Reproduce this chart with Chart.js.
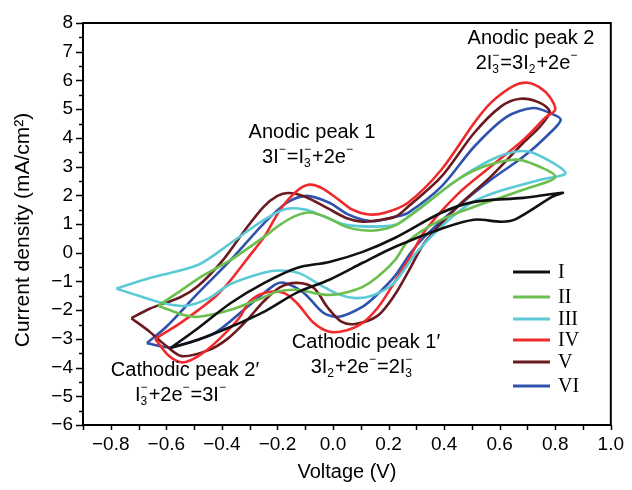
<!DOCTYPE html>
<html>
<head>
<meta charset="utf-8">
<script src="https://cdn.jsdelivr.net/npm/chart.js@4.4.0/dist/chart.umd.min.js"></script>
<style>
    * { padding:0; margin:0; }
    body { background:#fff; }
    #wrap { width:632px; height:490px; }
</style>
</head>
<body>
<div id="wrap"><canvas id="chart"></canvas></div>
<script>
var seriesNames = ['I', 'II', 'III', 'IV', 'V', 'VI'];
var seriesColors = ['#111111', '#6cbf4f', '#5ccad6', '#f02a2c', '#6b1a20', '#2f52ad'];

// each loop: left vertex -> forward (anodic) sweep -> right vertex -> reverse sweep -> back
var vI = [-0.585, -0.485, -0.368, -0.247, -0.13, -0.013, 0.107, 0.224, 0.39, 0.508, 0.685, 0.827,
          0.79, 0.66, 0.607, 0.508, 0.40, 0.224, 0.107, -0.013, -0.13, -0.247, -0.368, -0.485, -0.585];
var jI = [-3.32, -2.62, -1.75, -1.05, -0.53, -0.32, 0.03, 0.52, 1.39, 1.77, 1.91, 2.09,
          1.95, 1.18, 1.08, 1.15, 0.87, 0.21, -0.35, -0.94, -1.39, -2.05, -2.58, -3.03, -3.32];

var vII = [-0.63, -0.56, -0.485, -0.368, -0.247, -0.19, -0.13, -0.08, -0.02, 0.047, 0.107, 0.16, 0.224, 0.3, 0.448, 0.543, 0.65, 0.71, 0.80,
           0.685, 0.508, 0.39, 0.27, 0.224, 0.16, 0.107, 0.04, -0.013, -0.07, -0.13, -0.2, -0.247, -0.368, -0.485, -0.545, -0.6, -0.63];
var jII = [-1.85, -1.4, -0.9, -0.25, 0.56, 0.98, 1.3, 1.4, 1.22, 0.9, 0.78, 0.78, 0.95, 1.45, 2.54, 3.0, 3.24, 3.13, 2.64,
           2.19, 1.6, 1.15, 0.4, -0.25, -0.85, -1.19, -1.4, -1.47, -1.4, -1.29, -1.35, -1.54, -1.99, -2.23, -2.15, -1.95, -1.85];

var vIII = [-0.78, -0.66, -0.485, -0.368, -0.247, -0.17, -0.1, -0.03, 0.047, 0.153, 0.224, 0.27, 0.448, 0.568, 0.65, 0.72, 0.837,
            0.75, 0.6, 0.5, 0.4, 0.3, 0.22, 0.14, 0.08, 0.02, -0.05, -0.12, -0.19, -0.25, -0.37, -0.45, -0.53, -0.6, -0.7, -0.78];
var jIII = [-1.25, -0.88, -0.42, 0.34, 1.15, 1.52, 1.5, 1.25, 0.97, 0.91, 0.97, 1.25, 2.54, 3.23, 3.51, 3.48, 2.78,
            2.55, 2.15, 1.75, 1.0, 0.0, -1.05, -1.5, -1.58, -1.45, -1.1, -0.72, -0.62, -0.7, -1.1, -1.6, -1.85, -1.78, -1.5, -1.25];

var vIV = [-0.64, -0.55, -0.485, -0.42, -0.368, -0.3, -0.247, -0.19, -0.13, -0.085, -0.04, 0.02, 0.07, 0.13, 0.19, 0.27, 0.39, 0.508, 0.568, 0.65, 0.70, 0.745, 0.78, 0.80,
           0.767, 0.685, 0.568, 0.45, 0.33, 0.28, 0.22, 0.164, 0.107, 0.05, -0.013, -0.07, -0.13, -0.177, -0.247, -0.30, -0.34, -0.425, -0.485, -0.54, -0.59, -0.64];
var jIV = [-3.0, -2.45, -2.0, -1.5, -0.95, -0.1, 0.56, 1.5, 2.15, 2.37, 2.25, 1.85, 1.5, 1.33, 1.4, 1.74, 2.89, 4.52, 5.22, 5.81, 5.92, 5.75, 5.43, 4.98,
           4.73, 3.93, 3.0, 2.05, 0.75, -0.1, -1.05, -1.88, -2.44, -2.7, -2.75, -2.44, -1.75, -1.4, -1.4, -1.7, -2.3, -3.15, -3.6, -3.82, -3.6, -3.0];

var vV = [-0.726, -0.66, -0.55, -0.485, -0.4, -0.32, -0.25, -0.2, -0.16, -0.1, -0.02, 0.05, 0.107, 0.153, 0.224, 0.27, 0.39, 0.508, 0.603, 0.674, 0.745, 0.78,
          0.745, 0.685, 0.568, 0.448, 0.33, 0.28, 0.22, 0.16, 0.08, 0.03, -0.02, -0.07, -0.13, -0.19, -0.25, -0.308, -0.38, -0.45, -0.545, -0.6, -0.66, -0.726];
var jV = [-2.28, -1.95, -1.55, -1.15, -0.3, 0.75, 1.6, 1.98, 2.08, 1.95, 1.55, 1.2, 1.08, 1.12, 1.25, 1.6, 2.65, 4.17, 5.08, 5.36, 5.22, 4.91,
          4.39, 3.83, 2.65, 1.6, 0.35, -0.5, -1.5, -2.2, -2.48, -2.4, -1.9, -1.22, -1.05, -1.2, -1.7, -2.33, -3.0, -3.4, -3.6, -3.25, -2.75, -2.28];

var vVI = [-0.67, -0.60, -0.485, -0.368, -0.247, -0.166, -0.095, -0.013, 0.05, 0.107, 0.153, 0.224, 0.27, 0.39, 0.508, 0.625, 0.72, 0.78, 0.82,
           0.767, 0.685, 0.568, 0.448, 0.33, 0.28, 0.224, 0.16, 0.107, 0.022, -0.035, -0.105, -0.177, -0.21, -0.308, -0.425, -0.545, -0.59, -0.67];
var jVI = [-3.15, -2.58, -1.4, -0.25, 1.04, 1.74, 1.98, 1.74, 1.35, 1.15, 1.1, 1.25, 1.39, 2.3, 3.69, 4.73, 5.04, 4.87, 4.63,
           4.04, 3.34, 2.54, 1.6, 0.56, 0.0, -0.8, -1.45, -1.88, -2.23, -2.09, -1.4, -1.05, -1.12, -1.88, -2.79, -3.2, -3.3, -3.15];

var voltages = [vI, vII, vIII, vIV, vV, vVI];
var currents = [jI, jII, jIII, jIV, jV, jVI];

// peak labels: [centre x, baseline y, title, equation parts]
var notes = [
    [312, 138, 'Anodic peak 1', ['3I', {sup: '−'}, '=I', {sub: '3', sup: '−'}, '+2e', {sup: '−'}]],
    [531, 44, 'Anodic peak 2', ['2I', {sub: '3', sup: '−'}, '=3I', {sub: '2'}, '+2e', {sup: '−'}]],
    [366, 348, 'Cathodic peak 1\u2032', ['3I', {sub: '2'}, '+2e', {sup: '−'}, '=2I', {sub: '3', sup: '−'}]],
    [185, 376, 'Cathodic peak 2\u2032', ['I', {sub: '3', sup: '−'}, '+2e', {sup: '−'}, '=3I', {sup: '−'}]]
];

var SANS = '"Liberation Sans", Arial, sans-serif';

function minus(s) { return String(s).replace('-', '\u2212'); }

function richText(ctx, parts, cx, y, size) {
    var small = Math.round(size * 0.62);
    var widths = parts.map(function(p) {
        if (typeof p === 'string') {
            ctx.font = size + 'px ' + SANS;
            return ctx.measureText(p).width;
        }
        ctx.font = small + 'px ' + SANS;
        return Math.max(p.sub ? ctx.measureText(p.sub).width : 0, p.sup ? ctx.measureText(p.sup).width : 0) + 1;
    });
    var total = widths.reduce(function(a, b) { return a + b; }, 0);
    var x = cx - total / 2;
    ctx.textAlign = 'left';
    ctx.textBaseline = 'alphabetic';
    parts.forEach(function(p, i) {
        if (typeof p === 'string') {
            ctx.font = size + 'px ' + SANS;
            ctx.fillText(p, x, y);
        } else {
            ctx.font = small + 'px ' + SANS;
            if (p.sup) ctx.fillText(p.sup, x, y - size * 0.48);
            if (p.sub) ctx.fillText(p.sub, x, y + size * 0.2);
        }
        x += widths[i];
    });
}

var decor = {
    id: 'decor',
    afterDatasetsDraw: function(chart) {
        var ctx = chart.ctx, a = chart.chartArea;
        var xs = chart.scales.x, ys = chart.scales.y;
        ctx.save();
        ctx.strokeStyle = '#000';
        ctx.lineWidth = 2;
        ctx.strokeRect(a.left, a.top, a.right - a.left, a.bottom - a.top);
        ctx.lineWidth = 1.5;
        ctx.beginPath();
        xs.ticks.forEach(function(t) {
            var px = Math.round(xs.getPixelForValue(t.value)) + 0.5;
            ctx.moveTo(px, a.bottom);
            ctx.lineTo(px, a.bottom + 5);
        });
        ys.ticks.forEach(function(t) {
            var py = Math.round(ys.getPixelForValue(t.value)) + 0.5;
            var len = Number.isInteger(t.value) ? 7 : 4;
            ctx.moveTo(a.left - len, py);
            ctx.lineTo(a.left, py);
        });
        ctx.stroke();

        // axis titles
        ctx.fillStyle = '#000';
        ctx.font = '20px ' + SANS;
        ctx.textAlign = 'center';
        ctx.textBaseline = 'middle';
        ctx.fillText('Voltage (V)', (a.left + a.right) / 2, 472);
        ctx.save();
        ctx.translate(23, 230);
        ctx.rotate(-Math.PI / 2);
        ctx.font = '21px ' + SANS;
        ctx.fillText('Current density (mA/cm\u00b2)', 0, 0);
        ctx.restore();

        // legend
        chart.data.datasets.forEach(function(ds, i) {
            var ly = [272, 297, 319, 340, 362, 386][i];
            ctx.strokeStyle = ds.borderColor;
            ctx.lineWidth = 3;
            ctx.beginPath();
            ctx.moveTo(513, ly);
            ctx.lineTo(550, ly);
            ctx.stroke();
            ctx.fillStyle = '#000';
            ctx.font = '20px "Liberation Serif", "Times New Roman", serif';
            ctx.textAlign = 'left';
            ctx.textBaseline = 'middle';
            ctx.fillText(ds.label, 558, ly + 1);
        });

        // peak annotations
        ctx.fillStyle = '#000';
        notes.forEach(function(n) {
            ctx.font = '20px ' + SANS;
            ctx.textAlign = 'center';
            ctx.textBaseline = 'alphabetic';
            ctx.fillText(n[2], n[0], n[1]);
            richText(ctx, n[3], n[0] - 4, n[1] + 25, 20);
        });
        ctx.restore();
    }
};

var datasets = seriesNames.map(function(name, i) {
    return {
        label: name,
        data: voltages[i].map(function(v, k) { return {x: v, y: currents[i][k]}; }),
        showLine: true,
        borderColor: seriesColors[i],
        borderWidth: 2.6,
        pointRadius: 0,
        tension: 0.3,
        fill: false
    };
});

var tickFont = {family: SANS, size: 19};

new Chart(document.getElementById('chart').getContext('2d'), {
    type: 'scatter',
    data: {datasets: datasets},
    plugins: [decor],
    options: {
        responsive: true,
        maintainAspectRatio: false,
        animation: false,
        layout: {padding: {top: 23, right: 13, left: 0, bottom: 0}},
        plugins: {legend: {display: false}, tooltip: {enabled: false}},
        scales: {
            x: {
                type: 'linear', min: -0.9, max: 1.0,
                afterFit: function(s) { s.height = 65; },
                grid: {display: false, drawTicks: false},
                border: {display: false},
                ticks: {
                    stepSize: 0.1, autoSkip: false, maxRotation: 0, padding: 8,
                    color: '#000', font: tickFont,
                    callback: function(v) {
                        var k = Math.round(v * 10);
                        return k % 2 === 0 ? minus((k / 10).toFixed(1)) : '';
                    }
                }
            },
            y: {
                type: 'linear', min: -6, max: 8,
                afterFit: function(s) { s.width = 83; },
                grid: {display: false, drawTicks: false},
                border: {display: false},
                ticks: {
                    stepSize: 0.5, autoSkip: false, padding: 10,
                    color: '#000', font: tickFont,
                    callback: function(v) { return Number.isInteger(v) ? minus(v) : ''; }
                }
            }
        }
    }
});
</script>
</body>
</html>
